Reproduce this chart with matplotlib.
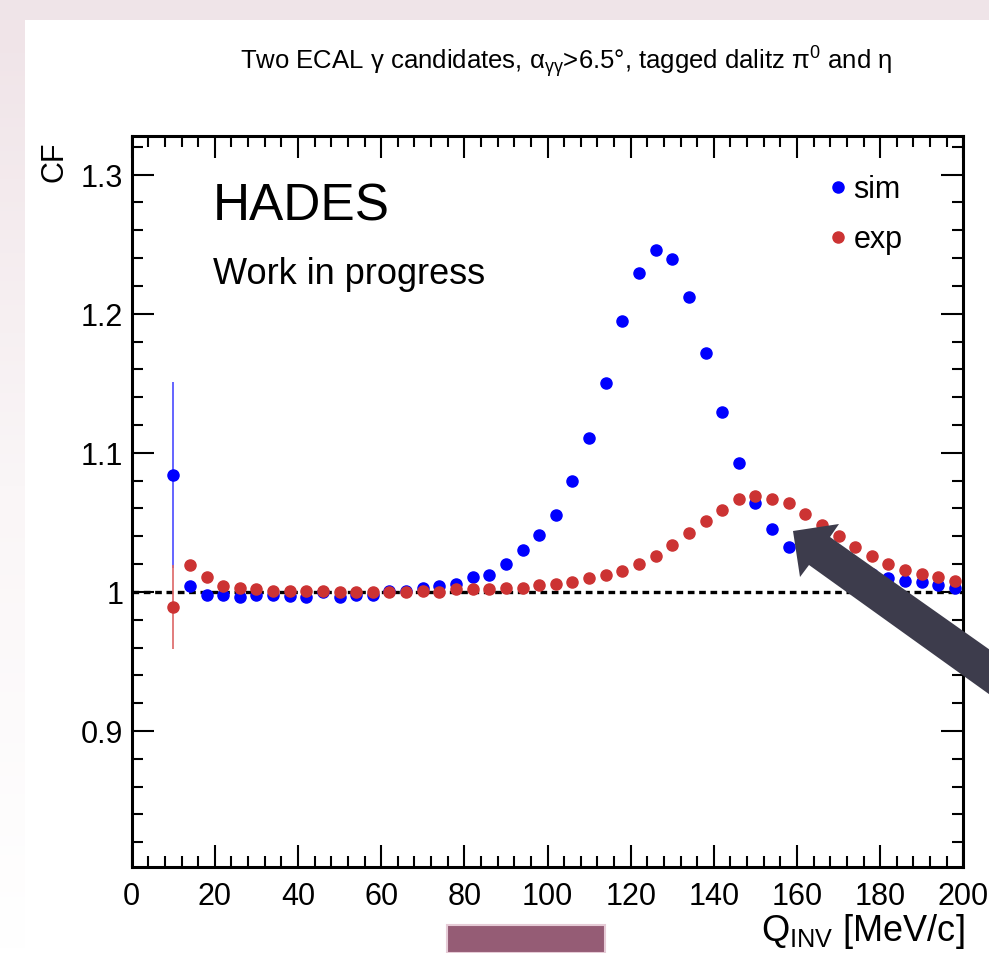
import matplotlib.pyplot as plt
import numpy as np
from matplotlib.patches import Polygon, Rectangle
from matplotlib.lines import Line2D
from matplotlib.colors import LinearSegmentedColormap

# bin centres of Q_inv [MeV/c]
q_inv = np.arange(10, 199, 4)

cf_sim = [1.084, 1.004, 0.998, 0.998, 0.996, 0.998, 0.998, 0.997, 0.996, 1.000,
          0.996, 0.998, 0.998, 1.001, 1.001, 1.003, 1.004, 1.006, 1.011, 1.012,
          1.020, 1.030, 1.041, 1.055, 1.080, 1.111, 1.150, 1.195, 1.229, 1.246,
          1.239, 1.212, 1.172, 1.129, 1.093, 1.064, 1.045, 1.032, 1.025, 1.020,
          1.016, 1.014, 1.013, 1.010, 1.008, 1.007, 1.005, 1.003]
cf_sim_err = [0.067, 0.004, 0.003, 0.003, 0.002, 0.002, 0.002, 0.002, 0.002, 0.002,
              0.002, 0.002, 0.002, 0.002, 0.002, 0.002, 0.002, 0.002, 0.002, 0.002,
              0.002, 0.002, 0.002, 0.002, 0.002, 0.002, 0.002, 0.002, 0.002, 0.002,
              0.002, 0.002, 0.002, 0.002, 0.002, 0.002, 0.002, 0.002, 0.002, 0.002,
              0.002, 0.002, 0.002, 0.002, 0.002, 0.002, 0.002, 0.002]

cf_exp = [0.989, 1.019, 1.011, 1.004, 1.003, 1.002, 1.001, 1.001, 1.001, 1.001,
          1.000, 1.000, 1.000, 1.000, 1.000, 1.001, 1.000, 1.002, 1.002, 1.002,
          1.003, 1.003, 1.005, 1.0055, 1.007, 1.010, 1.012, 1.015, 1.020, 1.026,
          1.034, 1.042, 1.051, 1.059, 1.067, 1.069, 1.067, 1.064, 1.056, 1.048,
          1.040, 1.032, 1.026, 1.020, 1.016, 1.013, 1.011, 1.008]
cf_exp_err = [0.030, 0.003, 0.002, 0.002, 0.002, 0.002, 0.002, 0.002, 0.002, 0.002,
              0.002, 0.002, 0.002, 0.002, 0.002, 0.002, 0.002, 0.002, 0.002, 0.002,
              0.002, 0.002, 0.002, 0.002, 0.002, 0.002, 0.002, 0.002, 0.002, 0.002,
              0.002, 0.002, 0.002, 0.002, 0.002, 0.002, 0.002, 0.002, 0.002, 0.002,
              0.002, 0.002, 0.002, 0.002, 0.002, 0.002, 0.002, 0.002]

y_ticks = [0.9, 1.0, 1.1, 1.2, 1.3]
y_tick_labels = ["0.9", "1", "1.1", "1.2", "1.3"]
x_ticks = [0, 20, 40, 60, 80, 100, 120, 140, 160, 180, 200]

W, H = 989, 954

plt.rcParams["font.family"] = ["Liberation Sans", "DejaVu Sans"]
plt.rcParams["mathtext.fontset"] = "custom"
plt.rcParams["mathtext.rm"] = "Liberation Sans"
plt.rcParams["mathtext.it"] = "Liberation Sans"
plt.rcParams["mathtext.default"] = "regular"


def fx(px):  # pixel -> figure fraction
    return px / W


def fy(py):
    return 1 - py / H


fig = plt.figure(figsize=(W / 100, H / 100), dpi=100)
fig.patch.set_facecolor("white")

# slide background: pink strip on top and a fading strip on the left
fig.add_artist(Rectangle((0, fy(21)), 1, 1 - fy(21), transform=fig.transFigure,
                         facecolor="#efe4e8", edgecolor="none", zorder=-5))
grad_ax = fig.add_axes([0, 0, fx(25), fy(21)], zorder=-5)
grad = np.linspace(0, 1, 200).reshape(-1, 1)
grad_ax.imshow(grad, aspect="auto", extent=[0, 1, 0, 1],
               cmap=LinearSegmentedColormap.from_list("bg", ["#f0e4e8", "#faf6f7", "#ffffff"]))
grad_ax.axis("off")

ax = fig.add_axes([fx(131.7), fy(868.3), fx(963.3) - fx(131.7), fy(136.7) - fy(868.3)])

ax.axhline(1.0, color="black", lw=2.4, ls=(0, (2, 1.4)), zorder=1)

ax.errorbar(q_inv, cf_sim, yerr=cf_sim_err, fmt="o", color="#0000ff", ms=8,
            mec="#0000ff", elinewidth=1.2, ecolor="#4a4aff", capsize=0, zorder=2)
ax.errorbar(q_inv, cf_exp, yerr=cf_exp_err, fmt="o", color="#cc3333", ms=8,
            mec="#cc3333", elinewidth=1.2, ecolor="#dd6666", capsize=0, zorder=3)

ax.set_xlim(0, 200)
ax.set_ylim(0.802, 1.328)
ax.set_xticks(x_ticks)
ax.set_xticks(np.arange(0, 201, 4), minor=True)
ax.set_yticks(y_ticks)
ax.set_yticklabels(y_tick_labels)
ax.set_yticks(np.arange(0.82, 1.33, 0.02), minor=True)
ax.tick_params(which="both", direction="in", top=True, right=True, width=1.5,
               labelsize=22)
ax.tick_params(which="major", length=16)
ax.tick_params(which="minor", length=8)
ax.tick_params(axis="x", pad=10)
ax.tick_params(axis="y", pad=6)
for s in ax.spines.values():
    s.set_linewidth(2.2)

leg_handles = [Line2D([], [], marker="o", ls="none", color="#0000ff", ms=8),
               Line2D([], [], marker="o", ls="none", color="#cc3333", ms=8)]
ax.legend(leg_handles, ["sim", "exp"], loc="upper left", bbox_to_anchor=(0.8385, 0.947),
          frameon=False, fontsize=22, handlelength=0.6, handletextpad=0.2,
          labelspacing=0.65, borderaxespad=0, borderpad=0)

# labels
fig.text(fx(566), fy(62), r"Two ECAL $\gamma$ candidates, $\alpha_{\gamma\gamma}$>6.5°, tagged dalitz $\pi^{0}$ and $\eta$",
         ha="center", va="center", fontsize=18.5)
fig.text(fx(965), fy(932), r"Q$_{INV}$ [MeV/c]", ha="right", va="center", fontsize=26)
fig.text(fx(55), fy(141), "CF", ha="center", va="top", rotation=90, fontsize=22)
fig.text(fx(213), fy(207), "HADES", ha="left", va="center", fontsize=37, color="black")
fig.text(fx(213), fy(274), "Work in progress", ha="left", va="center", fontsize=26, color="black")

# slide decorations: mauve box and big arrow
fig.add_artist(Rectangle((fx(447), fy(954)), fx(605) - fx(447), fy(926) - fy(954),
                         transform=fig.transFigure, facecolor="#955c75",
                         edgecolor="#e6cbd6", lw=1.5, zorder=10))
arrow_px = [(793, 532), (839, 525), (830, 538), (1000, 658), (1000, 703),
            (809, 566), (800, 578)]
fig.add_artist(Polygon([(fx(x), fy(y)) for x, y in arrow_px], closed=True,
                       transform=fig.transFigure, facecolor="#3d3c4c",
                       edgecolor="none", zorder=10))

fig.savefig("out.png", dpi=100)
